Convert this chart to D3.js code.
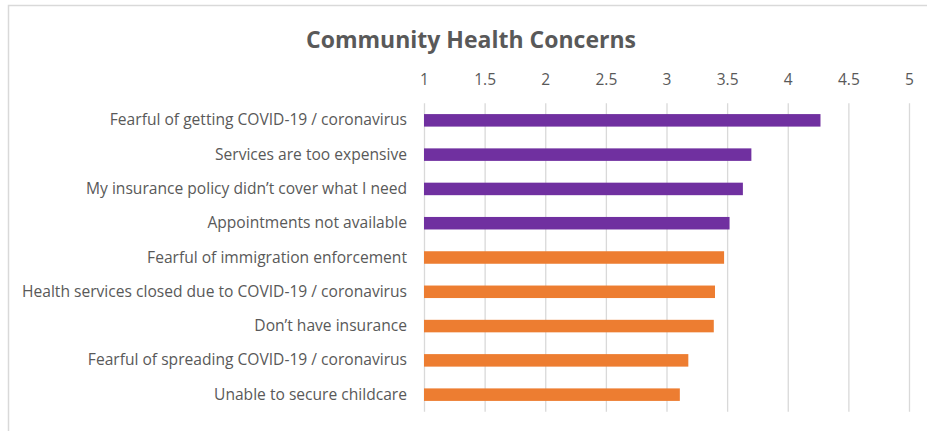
<!DOCTYPE html>
<html>
<head>
<meta charset="utf-8">
<script src="https://cdn.jsdelivr.net/npm/d3@7"></script>
<style>
  html, body { margin: 0; padding: 0; background: #fff; }
  svg { display: block; font-family: "Open Sans", "Noto Sans", sans-serif; }
  .axis text { fill: #595959; font-size: 15.5px; font-family: "Open Sans", sans-serif; }
  .grid line { stroke: #d9d9d9; stroke-width: 1.3; }
  .cat text { fill: #595959; font-size: 15.6px; font-family: "Open Sans", sans-serif; }
</style>
</head>
<body>
<div id="chart"></div>
<script>
// Community Health Concerns - horizontal bar chart (mean score, 1-5 scale)

const width = 927;
const height = 431;

// ---------- Data ----------
const categories = [
    "Fearful of getting COVID-19 / coronavirus",
    "Services are too expensive",
    "My insurance policy didn\u2019t cover what I need",
    "Appointments not available",
    "Fearful of immigration enforcement",
    "Health services closed due to COVID-19 / coronavirus",
    "Don\u2019t have insurance",
    "Fearful of spreading COVID-19 / coronavirus",
    "Unable to secure childcare"
];
const values = [4.27, 3.70, 3.63, 3.52, 3.475, 3.40, 3.39, 3.18, 3.11];
// top four concerns are highlighted
const groups = ["top", "top", "top", "top", "rest", "rest", "rest", "rest", "rest"];
const tickValues = [1, 1.5, 2, 2.5, 3, 3.5, 4, 4.5, 5];

const rows = categories.map((c, i) => ({ name: c, value: values[i], group: groups[i] }));

// ---------- Scales ----------
const plot = { left: 424, right: 909, top: 103.2, bottom: 411.8 };

const x = d3.scaleLinear()
    .domain([1, 5])
    .range([plot.left, plot.right]);

const y = d3.scaleBand()
    .domain(categories)
    .range([plot.top, plot.bottom])
    .paddingInner(0.635)
    .paddingOuter(0.3175);

const color = d3.scaleOrdinal()
    .domain(["top", "rest"])
    .range(["#7030a0", "#ed7d31"]);

const svg = d3.select("#chart")
    .append("svg")
    .attr("width", width)
    .attr("height", height);

// light frame round the chart area (only top and left show in the crop)
svg.append("path")
    .attr("d", `M8.5,${height + 5} V5.5 H${width + 5}`)
    .attr("fill", "none")
    .attr("stroke", "#d9d9d9")
    .attr("stroke-width", 1.5);

// title
svg.append("text")
    .attr("x", 471)
    .attr("y", 48)
    .attr("text-anchor", "middle")
    .attr("fill", "#595959")
    .attr("font-size", 23)
    .attr("font-weight", "bold")
    .text("Community Health Concerns");

// ---------- Axis + gridlines ----------
const xAxis = d3.axisTop(x)
    .tickValues(tickValues)
    .tickFormat(d => d)
    .tickSizeInner(-(plot.bottom - plot.top))
    .tickSizeOuter(0)
    .tickPadding(18);

const gx = svg.append("g")
    .attr("class", "axis grid")
    .attr("transform", `translate(0, ${plot.top})`)
    .call(xAxis);

gx.select(".domain").remove();

// ---------- Bars ----------
svg.append("g")
    .selectAll("rect")
    .data(rows)
    .join("rect")
    .attr("x", x(1))
    .attr("y", d => y(d.name))
    .attr("width", d => x(d.value) - x(1))
    .attr("height", y.bandwidth())
    .attr("fill", d => color(d.group));

// ---------- Category labels ----------
const yAxis = d3.axisLeft(y)
    .tickSize(0)
    .tickPadding(17);

const gy = svg.append("g")
    .attr("class", "cat")
    .attr("transform", `translate(${plot.left}, 0)`)
    .call(yAxis);

gy.select(".domain").remove();
</script>
</body>
</html>
